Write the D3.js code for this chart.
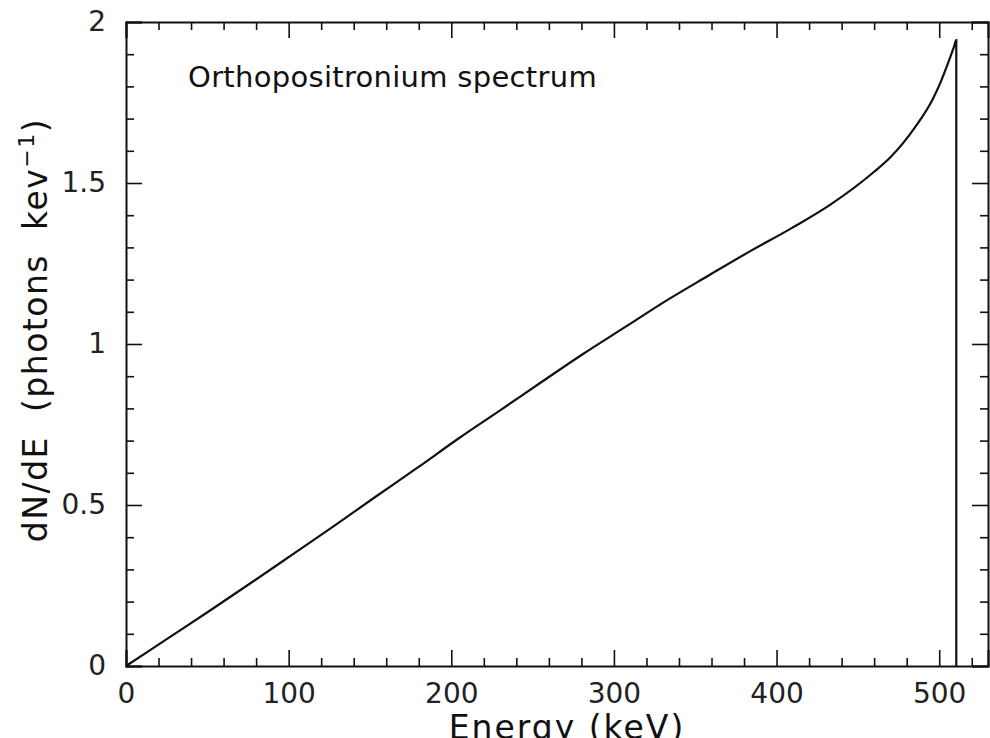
<!DOCTYPE html>
<html>
<head>
<meta charset="utf-8">
<script src="https://cdn.jsdelivr.net/npm/d3@7"></script>
<style>
  html, body { margin: 0; padding: 0; background: #fff; }
  svg { display: block; }
  .tick text { font-family: "DejaVu Sans", sans-serif; }
  text { white-space: pre; }
</style>
</head>
<body>
<svg id="chart" width="990" height="738"></svg>
<script>
// Ortho-positronium three-photon continuum, dN/dE vs photon energy
const energyKeV = [0, 25.5, 51, 76.5, 102, 128, 153, 179, 204, 230, 255.5, 281, 307,
                   332, 358, 383, 409, 434, 460, 470, 485, 496, 501, 506, 509, 510.5, 510.5];
const dNdE      = [0, 0.085, 0.170, 0.257, 0.345, 0.435, 0.524, 0.615, 0.705, 0.794, 0.882, 0.969, 1.053,
                   1.134, 1.212, 1.286, 1.359, 1.436, 1.535, 1.580, 1.672, 1.760, 1.815, 1.880, 1.922, 1.944, 0];

const xMajor = [0, 100, 200, 300, 400, 500];
const xMinor = d3.range(20, 530, 20).filter(v => v % 100 !== 0);
const yMajor = [0, 0.5, 1, 1.5, 2];
const yMinor = d3.range(1, 20).map(v => v / 10).filter(v => Math.round(v * 10) % 5 !== 0);
const yTickLabels = ["0", "0.5", "1", "1.5", "2"];

const titleText = "Orthopositronium spectrum";
const xTitle = "Energy (keV)";

const svg = d3.select("#chart");
const L = 126, R = 988, T = 22, B = 666;

const x = d3.scaleLinear().domain([0, 530]).range([L, R]);
const y = d3.scaleLinear().domain([0, 2]).range([B, T]);

function styleAxis(g, width) {
  g.select(".domain").attr("stroke", "#111").attr("stroke-width", 2);
  g.selectAll(".tick line").attr("stroke", "#111").attr("stroke-width", width);
}
function minorStyle(g) {
  g.select(".domain").remove();
  g.selectAll("line").attr("stroke", "#111").attr("stroke-width", 1.6);
}

// bottom axis: labelled majors + minors, ticks pointing inward
const gB = svg.append("g").attr("transform", `translate(0,${B})`)
  .call(d3.axisBottom(x).tickValues(xMajor).tickSize(-16).tickPadding(17).tickFormat(d3.format("d")));
styleAxis(gB, 1.6);
gB.selectAll(".tick text").attr("font-size", 28).attr("fill", "#222");
svg.append("g").attr("transform", `translate(0,${B})`)
  .call(d3.axisBottom(x).tickValues(xMinor).tickSize(-8).tickFormat(""))
  .call(minorStyle);

// top axis
const gT = svg.append("g").attr("transform", `translate(0,${T})`)
  .call(d3.axisTop(x).tickValues(xMajor).tickSize(-16).tickFormat(""));
styleAxis(gT, 1.6);
svg.append("g").attr("transform", `translate(0,${T})`)
  .call(d3.axisTop(x).tickValues(xMinor).tickSize(-8).tickFormat(""))
  .call(minorStyle);

// left axis
const gL = svg.append("g").attr("transform", `translate(${L},0)`)
  .call(d3.axisLeft(y).tickValues(yMajor).tickSize(-16).tickPadding(20)
    .tickFormat((d, i) => yTickLabels[i]));
styleAxis(gL, 1.6);
gL.selectAll(".tick text").attr("font-size", 28).attr("fill", "#222");
svg.append("g").attr("transform", `translate(${L},0)`)
  .call(d3.axisLeft(y).tickValues(yMinor).tickSize(-8).tickFormat(""))
  .call(minorStyle);

// right axis
const gR = svg.append("g").attr("transform", `translate(${R},0)`)
  .call(d3.axisRight(y).tickValues(yMajor).tickSize(-16).tickFormat(""));
styleAxis(gR, 1.6);
svg.append("g").attr("transform", `translate(${R},0)`)
  .call(d3.axisRight(y).tickValues(yMinor).tickSize(-8).tickFormat(""))
  .call(minorStyle);

// spectrum curve
const pts = energyKeV.map((e, i) => [e, dNdE[i]]);
svg.append("path")
  .datum(pts)
  .attr("fill", "none")
  .attr("stroke", "#111")
  .attr("stroke-width", 2.2)
  .attr("stroke-linejoin", "miter")
  .attr("d", d3.line().x(d => x(d[0])).y(d => y(d[1])).curve(d3.curveMonotoneX));

// in-plot label
svg.append("text")
  .attr("x", 188).attr("y", 87)
  .attr("font-family", "DejaVu Sans, sans-serif")
  .attr("font-size", 29)
  .attr("letter-spacing", 0.3)
  .attr("fill", "#111")
  .text(titleText);

// axis titles
svg.append("text")
  .attr("x", 567).attr("y", 739)
  .attr("text-anchor", "middle")
  .attr("font-family", "DejaVu Sans, sans-serif")
  .attr("font-size", 33)
  .attr("letter-spacing", 2)
  .attr("fill", "#111")
  .text(xTitle);

const yt = svg.append("text")
  .attr("transform", "translate(47,330) rotate(-90)")
  .attr("text-anchor", "middle")
  .attr("font-family", "DejaVu Sans, sans-serif")
  .attr("font-size", 33)
  .attr("letter-spacing", 1.5)
  .attr("fill", "#111");
yt.append("tspan").text("dN/dE  (photons  kev");
yt.append("tspan").attr("font-size", 22).attr("dy", -13).text("\u22121");
yt.append("tspan").attr("dy", 13).text(")");
</script>
</body>
</html>
